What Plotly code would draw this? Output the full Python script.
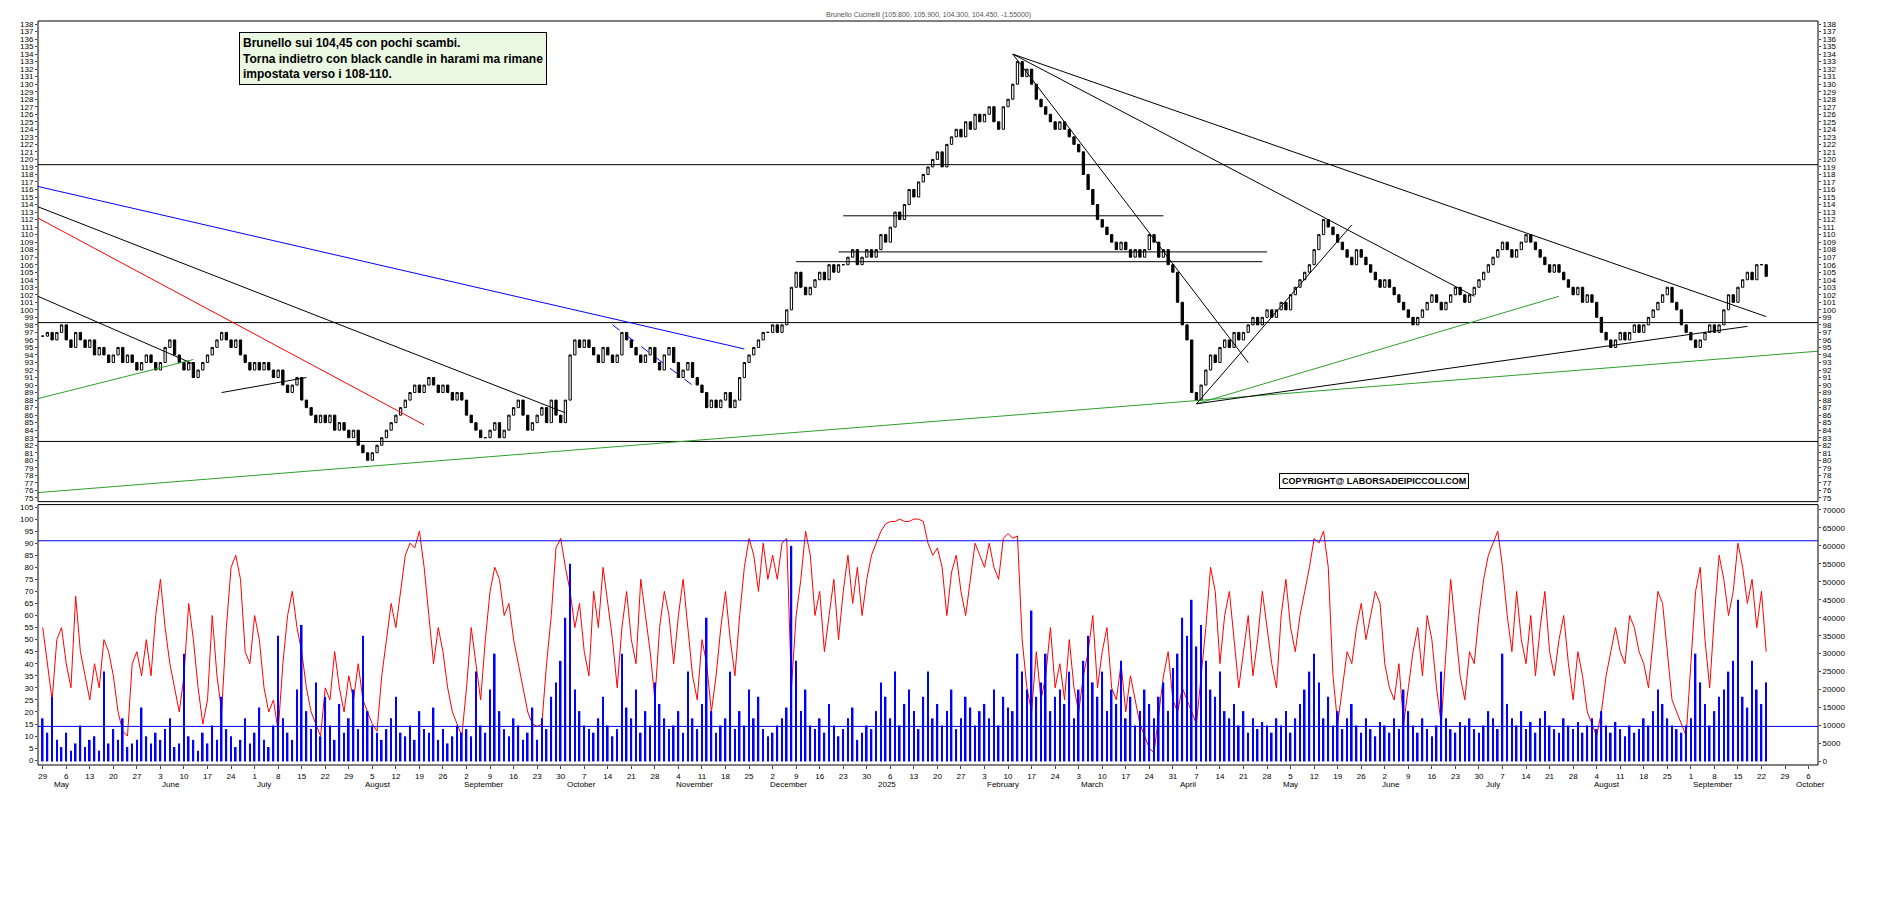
import pandas as pd
import plotly.graph_objects as go

# daily closes, month by month (Apr 29 2024 .. Sep 23 2025)
close = [
    96.5, 97,
    96, 97, 98, 96, 95, 97, 96, 95, 96, 94, 95, 94, 93, 94, 95, 93, 94, 93, 92, 93, 94, 93, 92,
    93, 95, 96, 94, 93, 92, 93, 91, 92, 93, 94, 95, 96, 97, 96, 95, 96, 94, 93, 92,
    93, 92, 93, 92, 91, 92, 90, 89, 90, 91, 88, 87, 86, 85, 86, 85, 86, 84, 85, 84, 83, 84, 82,
    81, 80, 81, 82, 83, 84, 85, 86, 87, 88, 89, 90, 89, 90, 91, 90, 89, 90, 89, 88, 89, 88,
    86, 85, 84, 83, 83, 84, 85, 83, 84, 86, 87, 88, 86, 84, 85, 86, 87, 85, 88, 86, 85,
    88, 94, 96, 95, 96, 95, 94, 93, 95, 94, 93, 94, 97, 96, 95, 94, 93, 94, 95, 93, 92, 94, 95,
    93, 91, 92, 93, 91, 90, 89, 87, 88, 87, 88, 89, 87, 88, 91, 93, 94, 95, 96, 97, 97,
    98, 97, 98, 100, 103, 105, 103, 102, 103, 104, 105, 104, 106, 105, 106, 106, 107, 108, 106, 107, 108, 107,
    108, 110, 109, 111, 113, 112, 114, 116, 115, 117, 118, 119, 120, 121, 119, 122, 123, 124, 123, 125, 124, 126, 125,
    126, 127, 125, 124, 127, 128, 130, 133, 131, 132, 130, 128, 127, 126, 125, 124, 125, 124, 123, 122,
    121, 118, 116, 114, 112, 111, 110, 109, 108, 109, 108, 107, 108, 107, 108, 110, 109, 107, 108, 106, 105,
    101, 98, 96, 89, 88, 90, 92, 94, 93, 95, 96, 95, 97, 96, 97, 98, 99, 98, 99, 100, 99, 100,
    101, 100, 102, 103, 104, 105, 106, 108, 110, 112, 111, 110, 109, 108, 107, 106, 108, 107, 106, 105, 104, 103,
    104, 103, 102, 101, 100, 99, 98, 99, 100, 101, 102, 101, 100, 101, 102, 103, 102, 101, 102, 103, 104,
    105, 106, 107, 108, 109, 108, 107, 108, 109, 110, 109, 108, 107, 106, 105, 106, 105, 104, 103, 102, 103, 101, 102,
    101, 99, 97, 96, 95, 96, 97, 96, 97, 98, 97, 98, 99, 100, 101, 102, 103, 101, 100, 98, 97,
    96, 95, 96, 97, 98, 97, 98, 100, 102, 101, 103, 104, 105, 104, 106, 106, 104.45,
]

osc = [
    55, 40,
    25, 50, 55, 40, 30, 68, 45, 35, 25, 40, 30, 50, 45, 35, 20, 12, 10, 40, 45, 35, 50, 35, 60,
    75, 55, 40, 30, 20, 35, 65, 50, 30, 15, 25, 60, 35, 20, 55, 80, 85, 75, 45, 40,
    60, 50, 30, 20, 25, 12, 40, 60, 70, 55, 45, 30, 20, 15, 10, 30, 25, 45, 30, 20, 35, 25, 40,
    25, 20, 15, 12, 35, 50, 65, 55, 70, 85, 90, 88, 95, 80, 60, 40, 55, 45, 30, 20, 15, 10,
    30, 55, 40, 25, 50, 70, 80, 75, 60, 65, 50, 40, 30, 20, 15, 14, 15, 40, 60, 88, 92,
    80, 70, 55, 65, 45, 35, 70, 55, 80, 65, 50, 30, 55, 70, 50, 40, 75, 60, 45, 25, 55, 70, 60,
    40, 60, 75, 55, 35, 25, 50, 40, 20, 35, 55, 70, 50, 35, 60, 80, 92, 85, 70, 90, 75,
    85, 75, 90, 92, 30, 60, 75, 95, 85, 60, 70, 45, 60, 75, 50, 70, 85, 65, 80, 60, 75, 85,
    90, 95, 98, 99, 99, 100, 99, 99, 100, 100, 99, 90, 85, 88, 80, 60, 78, 85, 70, 60, 75, 90, 85,
    80, 90, 80, 75, 92, 94, 92, 93, 50, 30, 20, 45, 25, 35, 55, 30, 40, 25, 50, 30,
    20, 35, 45, 60, 30, 45, 55, 30, 25, 40, 20, 35, 25, 15, 10, 5, 3, 20, 35, 45, 25,
    20, 30, 25, 20, 15, 35, 55, 80, 70, 40, 60, 70, 50, 30, 45, 60, 35, 50, 70, 55, 40, 30,
    60, 75, 55, 45, 60, 70, 80, 92, 90, 95, 80, 35, 15, 30, 45, 40, 55, 65, 50, 60, 70, 65,
    40, 30, 25, 40, 15, 30, 45, 55, 35, 60, 50, 30, 15, 45, 75, 55, 35, 25, 45, 40, 60,
    75, 85, 90, 95, 80, 60, 45, 70, 50, 40, 60, 35, 55, 70, 45, 35, 50, 60, 40, 25, 45, 35, 20,
    15, 10, 20, 35, 45, 55, 45, 40, 60, 55, 45, 40, 30, 50, 70, 65, 45, 25, 20, 15, 10,
    40, 70, 80, 50, 30, 60, 85, 75, 60, 70, 90, 80, 65, 75, 55, 70, 45,
]

volume_k = [
    12, 8,
    18, 6, 4, 8, 3, 5, 10, 4, 6, 7, 3, 25, 5, 9, 6, 12, 4, 5, 6, 15, 7, 5, 8,
    6, 9, 12, 4, 5, 30, 7, 6, 3, 8, 5, 10, 6, 18, 9, 7, 4, 6, 12, 5,
    8, 15, 6, 4, 10, 35, 12, 8, 6, 20, 38, 14, 9, 22, 7, 18, 10, 6, 16, 8, 12, 20, 9,
    35, 14, 10, 8, 6, 9, 12, 18, 8, 7, 10, 6, 14, 9, 8, 15, 6, 9, 5, 7, 10, 8,
    9, 7, 25, 10, 8, 20, 30, 14, 9, 7, 12, 10, 6, 8, 15, 6, 12, 9, 18, 22, 28,
    40, 55, 20, 14, 10, 9, 8, 12, 18, 10, 7, 9, 30, 15, 12, 20, 8, 14, 10, 22, 16, 12, 9,
    10, 14, 8, 25, 12, 9, 16, 40, 14, 8, 10, 12, 25, 9, 14, 10, 20, 12, 18, 9, 7,
    8, 10, 12, 15, 60, 28, 14, 20, 10, 9, 12, 8, 16, 10, 7, 9, 12, 15, 6, 8, 10, 9,
    14, 22, 18, 12, 25, 10, 16, 20, 14, 9, 18, 25, 12, 16, 10, 14, 20, 9, 12, 18, 15, 10, 14,
    16, 12, 20, 10, 18, 15, 14, 30, 25, 20, 42, 18, 22, 30, 14, 18, 20, 16, 25, 12,
    20, 28, 35, 22, 18, 25, 14, 20, 16, 28, 12, 18, 10, 14, 20, 16, 12, 18, 22, 14, 26,
    30, 40, 35, 45, 32, 38, 28, 20, 18, 25, 14, 12, 16, 10, 14, 8, 12, 9, 11, 10, 8, 12,
    10, 14, 8, 12, 16, 20, 25, 30, 22, 12, 18, 10, 14, 9, 12, 16, 10, 8, 12, 9, 7, 11,
    10, 8, 12, 9, 20, 14, 10, 8, 12, 9, 7, 10, 25, 12, 9, 8, 11, 10, 12, 9, 8,
    10, 14, 12, 9, 30, 16, 12, 10, 14, 9, 11, 8, 12, 14, 10, 9, 8, 12, 10, 9, 11, 8, 10,
    12, 9, 14, 10, 8, 11, 9, 7, 10, 8, 9, 12, 10, 14, 20, 16, 12, 10, 9, 8, 10,
    12, 30, 22, 16, 10, 14, 18, 20, 25, 28, 45, 18, 15, 28, 20, 16, 22,
]

price_levels = [119.3, 98.3, 82.5]
osc_levels = [91, 14]

# trend lines: (x0, y0, x1, y1, colour, dash)
trend_lines = [
    ("2024-04-26", 75.7, "2025-10-08", 94.5, "#2ca02c", "solid"),
    ("2024-04-26", 116.4, "2024-11-22", 94.8, "blue", "solid"),
    ("2024-10-15", 98.0, "2024-11-08", 89.5, "blue", "dash"),
    ("2024-04-26", 113.7, "2024-10-01", 86.3, "black", "solid"),
    ("2024-04-26", 112.2, "2024-08-20", 84.7, "red", "solid"),
    ("2024-04-26", 101.8, "2024-06-12", 92.8, "black", "solid"),
    ("2024-04-26", 88.2, "2024-06-12", 93.4, "#2ca02c", "solid"),
    ("2024-06-20", 89.0, "2024-07-16", 91.0, "black", "solid"),
    ("2025-02-11", 134.0, "2025-04-22", 93.0, "black", "solid"),
    ("2025-02-11", 134.0, "2025-06-27", 101.8, "black", "solid"),
    ("2025-02-11", 134.0, "2025-09-23", 99.1, "black", "solid"),
    ("2024-12-23", 112.5, "2025-03-27", 112.5, "black", "solid"),
    ("2024-12-20", 107.7, "2025-04-28", 107.7, "black", "solid"),
    ("2024-12-09", 106.4, "2025-04-25", 106.4, "black", "solid"),
    ("2025-04-07", 87.5, "2025-05-22", 111.3, "black", "solid"),
    ("2025-04-07", 87.5, "2025-07-23", 101.8, "#2ca02c", "solid"),
    ("2025-04-07", 87.5, "2025-09-17", 97.8, "black", "solid"),
]

dates = pd.bdate_range("2024-04-29", periods=len(close))
opens = [close[0]] + close[:-1]
highs = [max(o, c) for o, c in zip(opens, close)]
lows = [min(o, c) for o, c in zip(opens, close)]

x_start, x_end = "2024-04-26", "2025-10-08"
font = dict(family="Arial", size=8, color="black")

fig = go.Figure()
fig.add_trace(go.Candlestick(
    x=dates, open=opens, high=highs, low=lows, close=close,
    increasing=dict(line=dict(color="black", width=1), fillcolor="white"),
    decreasing=dict(line=dict(color="black", width=1), fillcolor="black"),
    whiskerwidth=0, xaxis="x", yaxis="y", showlegend=False,
))
fig.add_trace(go.Bar(x=dates[:len(volume_k)], y=[v * 1000 for v in volume_k],
                     marker_color="blue", marker_line_width=0, width=86400000 * 0.35,
                     xaxis="x2", yaxis="y4", showlegend=False))
fig.add_trace(go.Scatter(x=dates[:len(osc)], y=osc, mode="lines",
                         line=dict(color="red", width=1), xaxis="x2", yaxis="y3",
                         showlegend=False))

shapes = []
for lv in price_levels:
    shapes.append(dict(type="line", xref="x domain", yref="y", x0=0, x1=1, y0=lv, y1=lv,
                       line=dict(color="black", width=1)))
for lv in osc_levels:
    shapes.append(dict(type="line", xref="x2 domain", yref="y3", x0=0, x1=1, y0=lv, y1=lv,
                       line=dict(color="blue", width=1)))
for x0, y0, x1, y1, col, dash in trend_lines:
    shapes.append(dict(type="line", xref="x", yref="y", x0=x0, y0=y0, x1=x1, y1=y1,
                       line=dict(color=col, width=1, dash=dash)))
for dom in ("x domain", "x2 domain"):
    yr = "y domain" if dom == "x domain" else "y3 domain"
    shapes.append(dict(type="rect", xref=dom, yref=yr, x0=0, x1=1, y0=0, y1=1,
                       line=dict(color="black", width=1)))

mondays = pd.date_range(x_start, x_end, freq="W-MON")
month_starts = [d for d in pd.date_range("2024-05-01", x_end, freq="MS")]
month_names = {1: "January", 2: "February", 3: "March", 4: "April", 5: "May", 6: "June",
               7: "July", 8: "August", 9: "September", 10: "October", 11: "November",
               12: "December"}
annotations = []
for m in month_starts:
    txt = "2025" if (m.year == 2025 and m.month == 1) else month_names[m.month]
    annotations.append(dict(x=m, y=0, xref="x2", yref="y3 domain", text=txt, showarrow=False,
                            xanchor="left", yanchor="top", yshift=-13, font=font))
annotations.append(dict(x=0.5, y=1, xref="paper", yref="paper", yanchor="bottom",
                        text="Brunello Cucinelli (105.800, 105.900, 104.300, 104.450, -1.55000)",
                        showarrow=False, font=dict(family="Arial", size=7, color="#555")))
annotations.append(dict(x=0.113, y=0.985, xref="paper", yref="paper", xanchor="left",
                        yanchor="top", align="left", showarrow=False,
                        text="<b>Brunello sui 104,45 con pochi scambi.<br>Torna indietro con black candle in harami ma rimane<br>impostata verso i 108-110.</b>",
                        font=dict(family="Arial", size=12, color="black"),
                        bgcolor="#eaf7e2", bordercolor="black", borderwidth=1, borderpad=3))
annotations.append(dict(x=0.697, y=0.382, xref="paper", yref="paper", xanchor="left",
                        yanchor="middle", showarrow=False,
                        text="<b>COPYRIGHT@ LABORSADEIPICCOLI.COM</b>",
                        font=dict(family="Arial", size=9, color="black"),
                        bgcolor="white", bordercolor="black", borderwidth=1, borderpad=2))

rb = [dict(bounds=["sat", "mon"])]
fig.update_layout(
    width=1890, height=902, paper_bgcolor="white", plot_bgcolor="white",
    margin=dict(l=30, r=80, t=11, b=145),
    shapes=shapes, annotations=annotations,
    xaxis=dict(domain=[0, 1], range=[x_start, x_end], rangebreaks=rb, showticklabels=False,
               showgrid=False, rangeslider=dict(visible=False), anchor="y"),
    xaxis2=dict(domain=[0, 1], range=[x_start, x_end], rangebreaks=rb, matches="x",
                showgrid=False, anchor="y3", tickvals=list(mondays),
                ticktext=[str(d.day) for d in mondays], tickfont=font, ticks="outside",
                ticklen=3),
    yaxis=dict(domain=[0.354, 1], range=[74.5, 138.4], dtick=1, tickfont=font,
               showgrid=False, side="left", ticks="outside", ticklen=2),
    yaxis2=dict(overlaying="y", matches="y", side="right", dtick=1, tickfont=font,
                showgrid=False, anchor="x", ticks="outside", ticklen=2),
    yaxis3=dict(domain=[0, 0.35], range=[-2, 106], dtick=5, tickfont=font, showgrid=False,
                anchor="x2", ticks="outside", ticklen=2),
    yaxis4=dict(overlaying="y3", side="right", range=[-1000, 71500], dtick=5000,
                tickformat="d", tickfont=font, showgrid=False, anchor="x2", ticks="outside",
                ticklen=2),
    bargap=0.5,
)
# invisible trace so the right price axis shows
fig.add_trace(go.Scatter(x=[dates[0]], y=[close[0]], yaxis="y2", xaxis="x",
                         mode="markers", marker=dict(opacity=0), showlegend=False,
                         hoverinfo="skip"))
fig.write_html("out.html")
